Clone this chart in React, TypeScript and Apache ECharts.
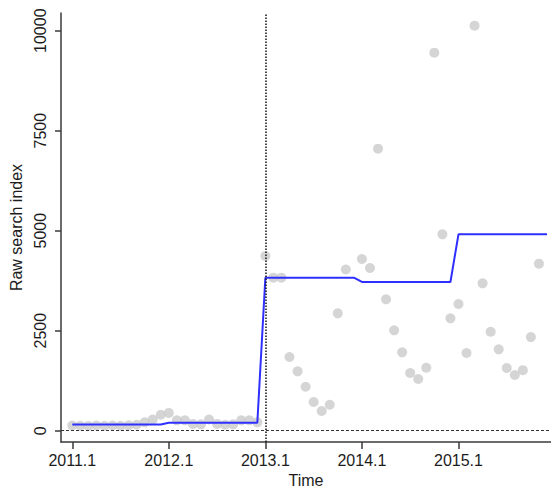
import React, { useEffect, useRef } from "react";
import * as echarts from "echarts";

// Monthly raw search index, Jan 2011 (index 0) to Nov 2015 (index 58); null = not shown
const searchIndex: (number | null)[] = [
  130, 125, 120, 130, 125, 130, 125, 135, 150, 210, 280, 400,
  445, 260, 260, 170, 160, 280, 170, 150, 160, 260, 260, 210,
  4367, 3825, 3825, 1843, 1484, 1100, 718, 493, 650, 2934, 4030, null,
  4292, 4067, 7050, 3284, 2509, 1959, 1442, 1292, 1575, 9450, 4910, 2809,
  3167, 1942, 10125, 3684, 2475, 2034, 1567, 1392, 1513, 2340, 4175,
];

// Fitted yearly level (2011 … 2015)
const yearLevels = [158, 200, 3825, 3718, 4910];

// Axis ticks
const xTickValues = [0, 12, 24, 36, 48];
const xTickLabels = ["2011.1", "2012.1", "2013.1", "2014.1", "2015.1"];
const yTickValues = [0, 2500, 5000, 7500, 10000];

// Month index of the break (Jan 2013)
const breakMonth = 24;

const FONT = "'Liberation Sans', Arial, Helvetica, sans-serif";
const TEXT = "#1c1c1c";
const AXIS = "#3a3a3a";

export default function App() {
  const ref = useRef<HTMLDivElement>(null);

  useEffect(() => {
    if (!ref.current) return;
    const chart = echarts.init(ref.current, null, { renderer: "svg" });

    const points = searchIndex
      .map((v, i) => (v == null ? null : [i, v]))
      .filter((p) => p != null) as number[][];

    const fitted: number[][] = [];
    yearLevels.forEach((level, y) => {
      for (let m = 0; m < 12; m++) fitted.push([y * 12 + m, level]);
    });

    chart.setOption({
      animation: false,
      textStyle: { fontFamily: FONT },
      grid: {
        left: 61,
        right: 0,
        top: 13,
        bottom: 46,
        containLabel: false,
        outerBoundsMode: "none",
      },
      xAxis: {
        type: "value",
        min: -1.4,
        max: 59.5,
        name: "Time",
        nameLocation: "middle",
        nameGap: 28,
        nameTextStyle: { fontSize: 16, color: TEXT, fontFamily: FONT },
        axisLine: { show: true, onZero: false, lineStyle: { color: AXIS, width: 1.5 } },
        axisTick: {
          show: true,
          customValues: xTickValues,
          length: 7,
          lineStyle: { color: AXIS, width: 1.5 },
        },
        axisLabel: {
          customValues: xTickValues,
          formatter: (v: number) => xTickLabels[xTickValues.indexOf(v)] ?? "",
          fontSize: 16,
          color: TEXT,
          fontFamily: FONT,
          margin: 10,
        },
        splitLine: { show: false },
      },
      yAxis: {
        type: "value",
        min: -282,
        max: 10442,
        name: "Raw search index",
        nameLocation: "middle",
        nameGap: 30,
        nameRotate: 90,
        nameTextStyle: { fontSize: 16, color: TEXT, fontFamily: FONT },
        axisLine: { show: true, onZero: false, lineStyle: { color: AXIS, width: 1.5 } },
        axisTick: {
          show: true,
          customValues: yTickValues,
          length: 6,
          lineStyle: { color: AXIS, width: 1.5 },
        },
        axisLabel: {
          customValues: yTickValues,
          formatter: (v: number) => String(v),
          rotate: 90,
          fontSize: 16,
          color: TEXT,
          fontFamily: FONT,
          margin: 13,
        },
        splitLine: { show: false },
      },
      series: [
        {
          type: "scatter",
          data: points,
          symbol: "circle",
          symbolSize: 10,
          itemStyle: { color: "#cbcbcb" },
          silent: true,
          z: 2,
        },
        {
          type: "line",
          data: fitted,
          showSymbol: false,
          lineStyle: { color: "#2f2fff", width: 2 },
          silent: true,
          z: 3,
          markLine: {
            symbol: "none",
            silent: true,
            label: { show: false },
            data: [
              { yAxis: 0, lineStyle: { type: [3, 2], color: "#333", width: 1 } },
              { xAxis: breakMonth, lineStyle: { type: [1.5, 1.5], color: "#111", width: 1.5 } },
            ],
          },
        },
      ],
    });

    return () => chart.dispose();
  }, []);

  return (
    <div
      ref={ref}
      style={{ position: "fixed", left: 0, top: 0, width: 551, height: 488, background: "#fff" }}
    />
  );
}
